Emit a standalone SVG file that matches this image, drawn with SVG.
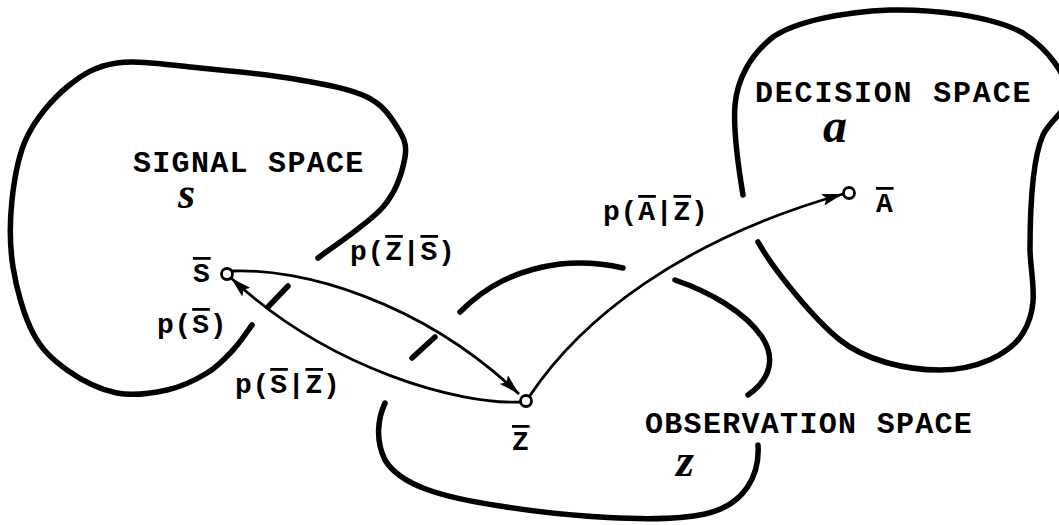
<svg xmlns="http://www.w3.org/2000/svg" width="1059" height="525" viewBox="0 0 1059 525">
<defs>
<style>
.blob{fill:none;stroke:#000;stroke-width:5.5;stroke-linecap:round;stroke-linejoin:round}
.conn{fill:none;stroke:#000;stroke-width:2.8}
.node{fill:#fff;stroke:#000;stroke-width:2.8}
.title{font-family:"Liberation Mono",monospace;font-weight:bold;font-size:30px;letter-spacing:1.3px;fill:#000}
.lbl{font-family:"Liberation Mono",monospace;font-weight:bold;font-size:28px;letter-spacing:0.8px;fill:#000}
.scr{font-family:"Liberation Serif",serif;font-style:italic;font-weight:bold;font-size:44px;fill:#000}
.ov{text-decoration:overline}
</style>
<marker id="arr" markerWidth="22" markerHeight="12" refX="21" refY="6" orient="auto" markerUnits="userSpaceOnUse">
<path d="M0,0 L21,6 L0,12 L4,6 z" fill="#000"/>
</marker>
</defs>
<rect width="1059" height="525" fill="#fff"/>

<g id="signal-space">
<path class="blob" d="M318,258 C328.8,249.5 368.5,223.8 383,207 C397.5,190.2 402.7,170.3 405,157 C407.3,143.7 403.3,137 397,127 C390.7,117 383.2,104.8 367,97 C350.8,89.2 327.8,84.8 300,80 C272.2,75.2 230.5,70.8 200,68 C169.5,65.2 139.2,59.8 117,63 C94.8,66.2 82,74.7 67,87 C52,99.3 36.2,118.2 27,137 C17.8,155.8 14.3,178.3 12,200 C9.7,221.7 9.5,244.8 13,267 C16.5,289.2 24,315.8 33,333 C42,350.2 53,360 67,370 C81,380 100.3,389.7 117,393 C133.7,396.3 152,393.3 167,390 C182,386.7 196,379.7 207,373 C218,366.3 225.5,358 233,350 C240.5,342 248.8,329.2 252,325"/>
<path class="blob" d="M268,307 L288,286"/>
<text class="title" x="133" y="172">SIGNAL SPACE</text>
<text class="scr" x="178" y="208">s</text>
</g>

<g id="observation-space">
<path class="blob" d="M460,312 C485,287 515,270 560,264 C590,261 610,265 623,268"/>
<path class="blob" d="M675,280 C710,292 745,312 762,337 C775,357 772,378 748,395"/>
<path class="blob" d="M758,445 C760,475 745,505 705,514 C660,524 560,516 500,506 C440,497 400,485 385,460 C375,440 378,418 385,403"/>
<path class="blob" d="M412,358 L435,337"/>
<text class="title" x="645" y="433">OBSERVATION SPACE</text>
<text class="scr" x="676" y="476" style="font-size:46px">z</text>
</g>

<g id="decision-space">
<path class="blob" d="M743,195 C738,165 733,130 735,105 C737,80 750,55 773,37 C795,22 840,12 890,10 C930,9 990,15 1023,33 C1050,50 1065,75 1070,95 C1068,110 1050,120 1043,135 C1032,160 1030,210 1030,250 C1031,280 1040,305 1023,333 C1010,355 975,370 940,370 C905,370 865,360 840,340 C815,320 775,272 758,242"/>
<text class="title" x="755" y="102" style="letter-spacing:1.8px">DECISION SPACE</text>
<text class="scr" x="823" y="142" style="font-size:48px">a</text>
</g>

<g id="connectors">
<path class="conn" d="M232,271 C300,268 420,300 519,394" marker-end="url(#arr)"/>
<path class="conn" d="M521,402 C460,405 330,370 231,278" marker-end="url(#arr)"/>
<path class="conn" d="M529,397 C580,320 680,240 843,194" marker-end="url(#arr)"/>
<text class="lbl" x="350" y="260">p(<tspan class="ov">Z</tspan>|<tspan class="ov">S</tspan>)</text>
<text class="lbl" x="235" y="393">p(<tspan class="ov">S</tspan>|<tspan class="ov">Z</tspan>)</text>
<text class="lbl" x="157" y="333">p(<tspan class="ov">S</tspan>)</text>
<text class="lbl" x="603" y="220">p(<tspan class="ov">A</tspan>|<tspan class="ov">Z</tspan>)</text>
</g>

<g id="node-s">
<circle class="node" cx="227" cy="274" r="5.5"/>
<text class="lbl" x="193" y="282"><tspan class="ov">S</tspan></text>
</g>
<g id="node-z">
<circle class="node" cx="526" cy="401" r="5.5"/>
<text class="lbl" x="512" y="450"><tspan class="ov">Z</tspan></text>
</g>
<g id="node-a">
<circle class="node" cx="849" cy="193" r="5.5"/>
<text class="lbl" x="876" y="212"><tspan class="ov">A</tspan></text>
</g>
</svg>
